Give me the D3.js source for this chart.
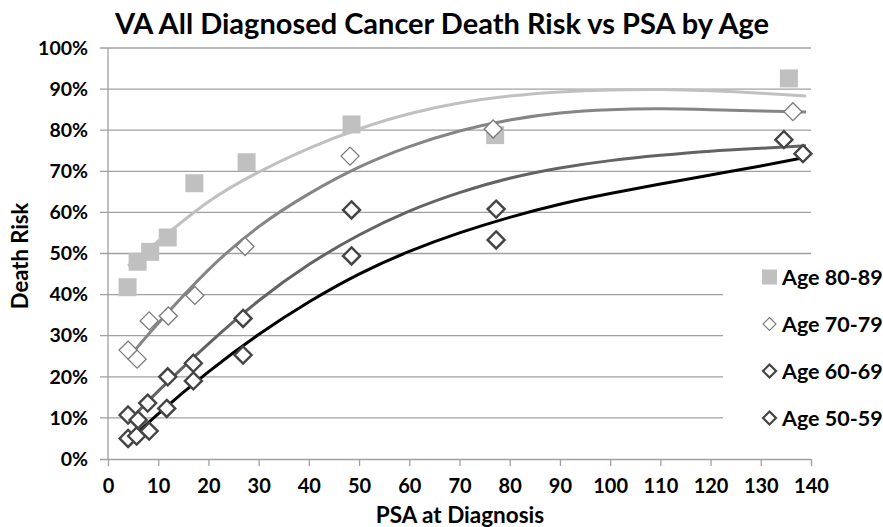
<!DOCTYPE html>
<html>
<head>
<meta charset="utf-8">
<script src="https://cdn.jsdelivr.net/npm/d3@7"></script>
<style>
  html, body { margin: 0; padding: 0; background: #fff; }
  svg { display: block; font-family: Lato, "Open Sans", sans-serif; font-weight: 700; }
</style>
</head>
<body>
<svg id="chart" width="883" height="527"></svg>
<script>
// ---- data ----
const seriesNames = ["Age 80-89", "Age 70-79", "Age 60-69", "Age 50-59"];

const psa80 = [3.9, 5.9, 8.4, 11.9, 17.2, 27.6, 48.5, 77.1, 135.6];
const risk80 = [0.418, 0.480, 0.504, 0.539, 0.671, 0.722, 0.814, 0.788, 0.926];

const psa70 = [4.0, 5.8, 8.2, 12.0, 17.3, 27.3, 48.2, 76.7, 136.4];
const risk70 = [0.265, 0.243, 0.336, 0.348, 0.398, 0.517, 0.737, 0.803, 0.845];

const psa60 = [4.0, 6.0, 7.9, 11.9, 17.0, 26.9, 48.5, 77.3, 134.6];
const risk60 = [0.107, 0.095, 0.136, 0.200, 0.233, 0.342, 0.606, 0.608, 0.777];

const psa50 = [4.0, 5.7, 8.2, 11.7, 17.0, 26.9, 48.5, 77.3, 138.4];
const risk50 = [0.050, 0.056, 0.068, 0.123, 0.190, 0.253, 0.494, 0.533, 0.743];

// trend curves
const trendX = [4, 10, 20, 30, 40, 50, 60, 70, 80, 90, 100, 110, 120, 130, 139];
const trend80 = [0.470, 0.530, 0.626, 0.698, 0.756, 0.803, 0.840, 0.866, 0.883, 0.893, 0.898, 0.899, 0.896, 0.890, 0.883];
const trend70 = [0.245, 0.330, 0.460, 0.565, 0.645, 0.710, 0.760, 0.798, 0.825, 0.842, 0.850, 0.852, 0.850, 0.847, 0.844];
const trend60 = [0.090, 0.165, 0.280, 0.385, 0.473, 0.545, 0.603, 0.648, 0.683, 0.708, 0.726, 0.739, 0.749, 0.756, 0.762];
const trend50 = [0.042, 0.110, 0.212, 0.303, 0.382, 0.450, 0.505, 0.550, 0.588, 0.620, 0.646, 0.669, 0.691, 0.713, 0.734];

const xTicks = [0, 10, 20, 30, 40, 50, 60, 70, 80, 90, 100, 110, 120, 130, 140];
const yTicks = [0, 0.1, 0.2, 0.3, 0.4, 0.5, 0.6, 0.7, 0.8, 0.9, 1.0];

const chartTitle = "VA All Diagnosed Cancer Death Risk vs PSA by Age";
const xTitle = "PSA at Diagnosis";
const yTitle = "Death Risk";

// ---- drawing ----
const svg = d3.select("#chart");
const x = d3.scaleLinear().domain([0, 140]).range([108, 811]);
const y = d3.scaleLinear().domain([0, 1]).range([459, 48]);

// gridlines
svg.append("g").selectAll("line").data(yTicks.filter(d => d > 0)).join("line")
  .attr("x1", x(0) - 8).attr("x2", x(140))
  .attr("y1", d => y(d)).attr("y2", d => y(d))
  .attr("stroke", "#a0a0a0").attr("stroke-width", 1.3);

// y axis line
svg.append("line").attr("x1", x(0)).attr("x2", x(0)).attr("y1", y(0)).attr("y2", y(1))
  .attr("stroke", "#a0a0a0").attr("stroke-width", 1.3);

// x axis
const xAxis = d3.axisBottom(x).tickValues(xTicks).tickSize(7).tickFormat(d3.format("d"));
const gx = svg.append("g").attr("transform", `translate(0,${y(0)})`).call(xAxis);
gx.select(".domain").attr("stroke", "#a0a0a0").attr("stroke-width", 1.3).attr("d", `M${x(0) - 8},0.5H${x(140)}`);
gx.selectAll(".tick line").attr("stroke", "#a0a0a0").attr("stroke-width", 1.3);
gx.selectAll(".tick text").attr("font-size", 20).attr("font-family", "Lato, sans-serif")
  .attr("font-weight", 700).attr("fill", "#000").attr("dy", "1.2em");

// y axis labels
const yAxis = d3.axisLeft(y).tickValues(yTicks).tickSize(0).tickPadding(20).tickFormat(d3.format(".0%"));
const gy = svg.append("g").attr("transform", `translate(${x(0)},0)`).call(yAxis);
gy.select(".domain").remove();
gy.selectAll(".tick text").attr("font-size", 19.5).attr("font-family", "Lato, sans-serif")
  .attr("font-weight", 700).attr("fill", "#000");

// titles
svg.append("text").attr("x", 442).attr("y", 34).attr("text-anchor", "middle")
  .attr("font-size", 29).text(chartTitle);
svg.append("text").attr("x", 460).attr("y", 523).attr("text-anchor", "middle")
  .attr("font-size", 22.5).text(xTitle);
svg.append("text").attr("transform", "translate(28,256) rotate(-90)").attr("text-anchor", "middle")
  .attr("font-size", 22).text(yTitle);

// legend background (covers gridlines)
svg.append("rect").attr("x", 723).attr("y", 262).attr("width", 160).attr("height", 185).attr("fill", "#fff");

// trend lines
const line = d3.line().x(d => x(d[0])).y(d => y(d[1])).curve(d3.curveNatural);
const trends = [
  { v: trend80, color: "#c0c0c0" },
  { v: trend70, color: "#858585" },
  { v: trend60, color: "#636363" },
  { v: trend50, color: "#000000" }
];
trends.forEach(t => {
  svg.append("path").attr("d", line(trendX.map((d, i) => [d, t.v[i]])))
    .attr("fill", "none").attr("stroke", t.color).attr("stroke-width", 3);
});

// markers
const diamond = (s) => `M0,${-s}L${s},0L0,${s}L${-s},0Z`;
function drawDiamonds(xs, ys, stroke, sw, size) {
  svg.append("g").selectAll("path").data(xs.map((d, i) => [d, ys[i]])).join("path")
    .attr("transform", d => `translate(${x(d[0])},${y(d[1])})`)
    .attr("d", diamond(size)).attr("fill", "#fff").attr("stroke", stroke).attr("stroke-width", sw);
}
drawDiamonds(psa50, risk50, "#444444", 2.4, 8.5);
drawDiamonds(psa60, risk60, "#444444", 2.4, 8.5);
svg.append("g").selectAll("rect").data(psa80.map((d, i) => [d, risk80[i]])).join("rect")
  .attr("x", d => x(d[0]) - 9).attr("y", d => y(d[1]) - 9).attr("width", 18).attr("height", 18)
  .attr("fill", "#c0c0c0");
drawDiamonds(psa70, risk70, "#7a7a7a", 1.3, 9);

// legend
const legY = [277, 324, 371, 418];
const lg = svg.append("g");
lg.append("rect").attr("x", 762).attr("y", legY[0] - 7.5).attr("width", 15).attr("height", 15).attr("fill", "#c0c0c0");
const legStyles = [null, { s: "#7a7a7a", w: 1.1 }, { s: "#444444", w: 2.2 }, { s: "#444444", w: 2.2 }];
for (let i = 1; i < 4; i++) {
  lg.append("path").attr("transform", `translate(769.5,${legY[i]})`).attr("d", diamond(6.5))
    .attr("fill", "#fff").attr("stroke", legStyles[i].s).attr("stroke-width", legStyles[i].w);
}
lg.selectAll("text").data(seriesNames).join("text")
  .attr("x", 782).attr("y", (d, i) => legY[i]).attr("dy", "0.36em")
  .attr("font-size", 21.5).text(d => d);
</script>
</body>
</html>
